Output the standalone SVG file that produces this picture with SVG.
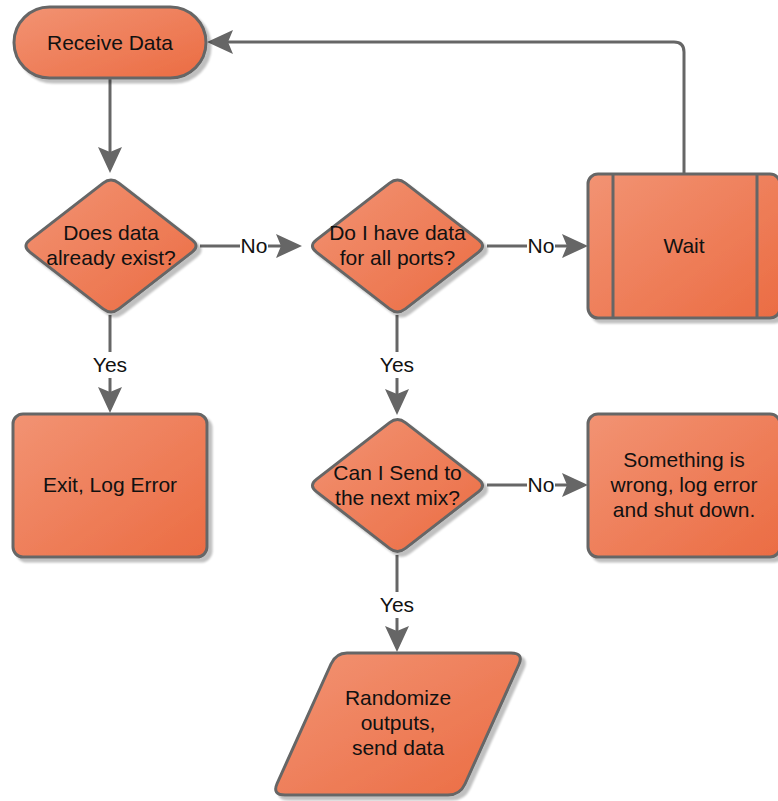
<svg xmlns="http://www.w3.org/2000/svg" width="778" height="801" viewBox="0 0 778 801">
  <defs>
    <linearGradient id="fillGrad" x1="0" y1="0" x2="1" y2="1">
      <stop offset="0" stop-color="#F29373"/>
      <stop offset="1" stop-color="#EB6C43"/>
    </linearGradient>
    <filter id="shadow" x="-10%" y="-10%" width="130%" height="130%">
      <feGaussianBlur in="SourceAlpha" stdDeviation="1"/>
      <feOffset dx="4" dy="4" result="off"/>
      <feComponentTransfer><feFuncA type="linear" slope="0.25"/></feComponentTransfer>
      <feMerge><feMergeNode/><feMergeNode in="SourceGraphic"/></feMerge>
    </filter>
    <marker id="arrow" markerUnits="userSpaceOnUse" markerWidth="26" markerHeight="24" viewBox="0 0 26 24" refX="6" refY="12" orient="auto">
      <path d="M0,0 L26,12 L0,24 L5,12 Z" fill="#666"/>
    </marker>
    <!-- decision diamond centred on the origin, rounded tips -->
    <path id="diamond" d="M-7.9,-62.87 Q0,-69 7.9,-62.87 L81.1,-6.13 Q89,0 81.1,6.13 L7.9,62.87 Q0,69 -7.9,62.87 L-81.1,6.13 Q-89,0 -81.1,-6.13 Z"/>
    <style>
      .shape { fill: url(#fillGrad); stroke: #666; stroke-width: 3; filter: url(#shadow); }
      .bar { stroke: #666; stroke-width: 3; fill: none; }
      .txt { font-family: "Liberation Sans", Arial, sans-serif; font-size: 21px; fill: #111; text-anchor: middle; }
      .conn { fill: none; stroke: #666; stroke-width: 3; marker-end: url(#arrow); }
      .lbl { font-family: "Liberation Sans", Arial, sans-serif; font-size: 21px; fill: #111; text-anchor: middle; }
      .lblbg { fill: #fff; }
    </style>
  </defs>
  <rect width="778" height="801" fill="#fff"/>

  <!-- connectors -->
  <g id="connectors">
    <path class="conn" d="M110,78 V153"/>
    <path class="conn" d="M200,246 H282"/>
    <path class="conn" d="M487,246 H568"/>
    <path class="conn" d="M684,174 V52 Q684,42 674,42 H227"/>
    <path class="conn" d="M110,315 V393"/>
    <path class="conn" d="M397,315 V395"/>
    <path class="conn" d="M487,485 H568"/>
    <path class="conn" d="M397,555 V632"/>
    <!-- branch labels -->
    <rect class="lblbg" x="240" y="234" width="28" height="24"/>
    <text class="lbl" x="254" y="253">No</text>
    <rect class="lblbg" x="527" y="234" width="28" height="24"/>
    <text class="lbl" x="541" y="253">No</text>
    <rect class="lblbg" x="527" y="473" width="28" height="24"/>
    <text class="lbl" x="541" y="492">No</text>
    <rect class="lblbg" x="91" y="352" width="38" height="26"/>
    <text class="lbl" x="110" y="372">Yes</text>
    <rect class="lblbg" x="378" y="352" width="38" height="26"/>
    <text class="lbl" x="397" y="372">Yes</text>
    <rect class="lblbg" x="378" y="592" width="38" height="26"/>
    <text class="lbl" x="397" y="612">Yes</text>
  </g>

  <g id="receive-data">
    <rect class="shape" x="14" y="7" width="192" height="71" rx="35.5"/>
    <text class="txt" x="110" y="50">Receive Data</text>
  </g>

  <g id="data-exists">
    <use href="#diamond" class="shape" transform="translate(111,246)"/>
    <text class="txt" x="111" y="240">Does data</text>
    <text class="txt" x="111" y="265">already exist?</text>
  </g>

  <g id="all-ports">
    <use href="#diamond" class="shape" transform="translate(397.5,246)"/>
    <text class="txt" x="397.5" y="240">Do I have data</text>
    <text class="txt" x="397.5" y="265">for all ports?</text>
  </g>

  <g id="wait">
    <rect class="shape" x="588" y="174" width="192" height="144" rx="10"/>
    <path class="bar" d="M613,174 V318 M757,174 V318"/>
    <text class="txt" x="684" y="253">Wait</text>
  </g>

  <g id="exit-log-error">
    <rect class="shape" x="13" y="414" width="194" height="143" rx="10"/>
    <text class="txt" x="110" y="492">Exit, Log Error</text>
  </g>

  <g id="can-send">
    <use href="#diamond" class="shape" transform="translate(397.5,485.5)"/>
    <text class="txt" x="397.5" y="480">Can I Send to</text>
    <text class="txt" x="397.5" y="505">the next mix?</text>
  </g>

  <g id="something-wrong">
    <rect class="shape" x="588" y="414" width="192" height="143" rx="10"/>
    <text class="txt" x="684" y="467">Something is</text>
    <text class="txt" x="684" y="492">wrong, log error</text>
    <text class="txt" x="684" y="517">and shut down.</text>
  </g>

  <g id="randomize">
    <path class="shape" d="M347,653 L511,653 Q524,653 518.9,664.5 L465,784 Q460,795 448,795 L285,795 Q272,795 277.1,783.5 L331,664 Q336,653 347,653 Z"/>
    <text class="txt" x="398" y="705">Randomize</text>
    <text class="txt" x="398" y="730">outputs,</text>
    <text class="txt" x="398" y="755">send data</text>
  </g>
</svg>
